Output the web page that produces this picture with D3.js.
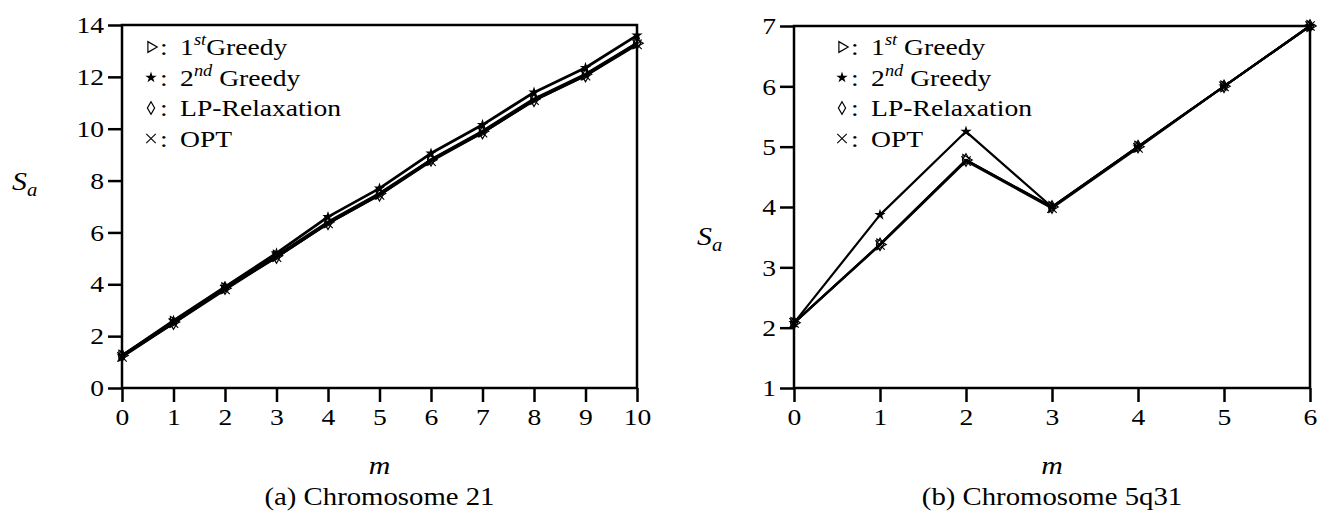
<!DOCTYPE html>
<html>
<head>
<meta charset="utf-8">
<script src="https://cdn.jsdelivr.net/npm/d3@7"></script>
<style>
  body { margin: 0; background: #fff; }
  text { font-family: "Liberation Serif", "DejaVu Serif", serif; fill: #000; }
</style>
</head>
<body>
<svg id="chart" width="1317" height="516"></svg>
<script>
// ---- data (a) Chromosome 21 ----
const mA = [0, 1, 2, 3, 4, 5, 6, 7, 8, 9, 10];
const greedy1A = [1.25, 2.55, 3.85, 5.1, 6.4, 7.5, 8.8, 9.9, 11.15, 12.1, 13.3];
const greedy2A = [1.25, 2.6, 3.9, 5.2, 6.6, 7.7, 9.05, 10.15, 11.4, 12.35, 13.6];
const lpA = [1.25, 2.5, 3.85, 5.05, 6.35, 7.45, 8.8, 9.85, 11.1, 12.05, 13.3];
const optA = [1.2, 2.5, 3.8, 5.05, 6.35, 7.45, 8.75, 9.85, 11.1, 12.05, 13.25];
const yTicksA = [0, 2, 4, 6, 8, 10, 12, 14];

// ---- data (b) Chromosome 5q31 ----
const mB = [0, 1, 2, 3, 4, 5, 6];
const greedy1B = [2.08, 3.38, 4.78, 4.0, 5.0, 6.0, 7.0];
const greedy2B = [2.08, 3.87, 5.25, 4.0, 5.0, 6.0, 7.0];
const lpB = [2.08, 3.38, 4.78, 4.0, 5.0, 6.0, 7.0];
const optB = [2.08, 3.37, 4.76, 3.98, 4.98, 6.0, 7.0];
const yTicksB = [1, 2, 3, 4, 5, 6, 7];

const seriesNames = ['1st Greedy', '2nd Greedy', 'LP-Relaxation', 'OPT'];

const svg = d3.select('#chart');
const FONT = '"Liberation Serif", serif';
const SX = 1.15;   // the scanned figure is stretched horizontally

const markers = [
  g => g.append('path').attr('d', d3.symbol().type(d3.symbolTriangle).size(50)())
        .attr('transform', 'rotate(90)').attr('fill', 'none').attr('stroke', '#000').attr('stroke-width', 1.2),
  g => g.append('path').attr('d', d3.symbol().type(d3.symbolStar).size(40)()).attr('fill', '#000'),
  g => g.append('path').attr('d', d3.symbol().type(d3.symbolDiamond).size(45)())
        .attr('fill', 'none').attr('stroke', '#000').attr('stroke-width', 1.2),
  g => g.append('path').attr('d', d3.symbol().type(d3.symbolX).size(60)())
        .attr('fill', 'none').attr('stroke', '#000').attr('stroke-width', 1.1)
];

// text placed at (x, y) and stretched horizontally
const stretchedText = (g, x, y, size) => g.append('text')
  .attr('transform', `translate(${x},${y}) scale(${SX},1)`)
  .attr('font-size', size);

const drawPanel = (cfg) => {
  const g = svg.append('g');
  const x = d3.scaleLinear().domain(cfg.xDomain).range([cfg.left, cfg.right]);
  const y = d3.scaleLinear().domain(cfg.yDomain).range([cfg.bottom, cfg.top]);

  // frame
  g.append('rect')
    .attr('x', cfg.left).attr('y', cfg.top)
    .attr('width', cfg.right - cfg.left).attr('height', cfg.bottom - cfg.top)
    .attr('fill', 'none').attr('stroke', '#000').attr('stroke-width', 2.5);

  // x axis
  const xAxis = g.append('g').attr('transform', `translate(0,${cfg.bottom})`)
    .call(d3.axisBottom(x).tickValues(cfg.xValues).tickSize(14).tickSizeOuter(0).tickPadding(6).tickFormat(d3.format('d')));
  xAxis.select('.domain').remove();
  xAxis.attr('font-family', FONT);
  xAxis.selectAll('line').attr('stroke-width', 2.5);
  xAxis.selectAll('text').attr('font-size', 24)
    .attr('transform', `scale(${SX},1)`);

  // y axis
  const yAxis = g.append('g').attr('transform', `translate(${cfg.left},0)`)
    .call(d3.axisLeft(y).tickValues(cfg.yTicks).tickSize(14).tickSizeOuter(0).tickPadding(4).tickFormat(d3.format('d')));
  yAxis.select('.domain').remove();
  yAxis.attr('font-family', FONT);
  yAxis.selectAll('line').attr('stroke-width', 2.5);
  yAxis.selectAll('text').attr('font-size', 24)
    .attr('x', -18 / SX)
    .attr('transform', `scale(${SX},1)`);

  // lines + markers
  const line = d3.line().x((d, i) => x(cfg.xValues[i])).y(d => y(d));
  cfg.series.forEach((vals, si) => {
    g.append('path').datum(vals)
      .attr('d', line)
      .attr('fill', 'none').attr('stroke', '#000').attr('stroke-width', cfg.lineW)
      .attr('stroke-linejoin', 'round');
    vals.forEach((v, i) => {
      const mg = g.append('g').attr('transform', `translate(${x(cfg.xValues[i])},${y(v)})`);
      markers[si](mg);
    });
  });

  // legend
  const sup = ['st', 'nd'];
  seriesNames.forEach((name, i) => {
    const rowY = cfg.legY + i * 30.5;
    const mg = g.append('g').attr('transform', `translate(${cfg.legX},${rowY - 8})`);
    markers[i](mg);
    const t = stretchedText(g, cfg.legX + 9, rowY, 24);
    if (i < 2) {
      t.append('tspan').text(':\u00a0\u2009' + (i + 1));
      t.append('tspan').attr('font-size', 16).attr('font-style', 'italic').attr('dy', -10).text(sup[i]);
      t.append('tspan').attr('dy', 10).text((cfg.gap || i === 1 ? '\u00a0' : '') + 'Greedy');
    } else {
      t.text(':\u00a0\u2009' + name);
    }
  });

  // axis labels
  const sa = stretchedText(g, cfg.syX, cfg.syY, 26).attr('font-style', 'italic');
  sa.append('tspan').text('S');
  sa.append('tspan').attr('font-size', 18).attr('dy', 6).text('a');
  stretchedText(g, (cfg.left + cfg.right) / 2, 474, 26)
    .attr('text-anchor', 'middle').attr('font-style', 'italic').text('m');
  stretchedText(g, (cfg.left + cfg.right) / 2, 505, 25)
    .attr('text-anchor', 'middle').text(cfg.caption);
};

drawPanel({
  xDomain: [0, 10], yDomain: [0, 14], left: 122, right: 637, top: 25, bottom: 388,
  xValues: mA, yTicks: yTicksA, series: [greedy1A, greedy2A, lpA, optA], lineW: 2.8,
  legX: 151, legY: 55, gap: false, syX: 12, syY: 190, caption: '(a) Chromosome 21'
});

drawPanel({
  xDomain: [0, 6], yDomain: [1, 7], left: 794, right: 1310, top: 26, bottom: 388,
  xValues: mB, yTicks: yTicksB, series: [greedy1B, greedy2B, lpB, optB], lineW: 2.2,
  legX: 842, legY: 55, gap: true, syX: 697, syY: 245, caption: '(b) Chromosome 5q31'
});
</script>
</body>
</html>
